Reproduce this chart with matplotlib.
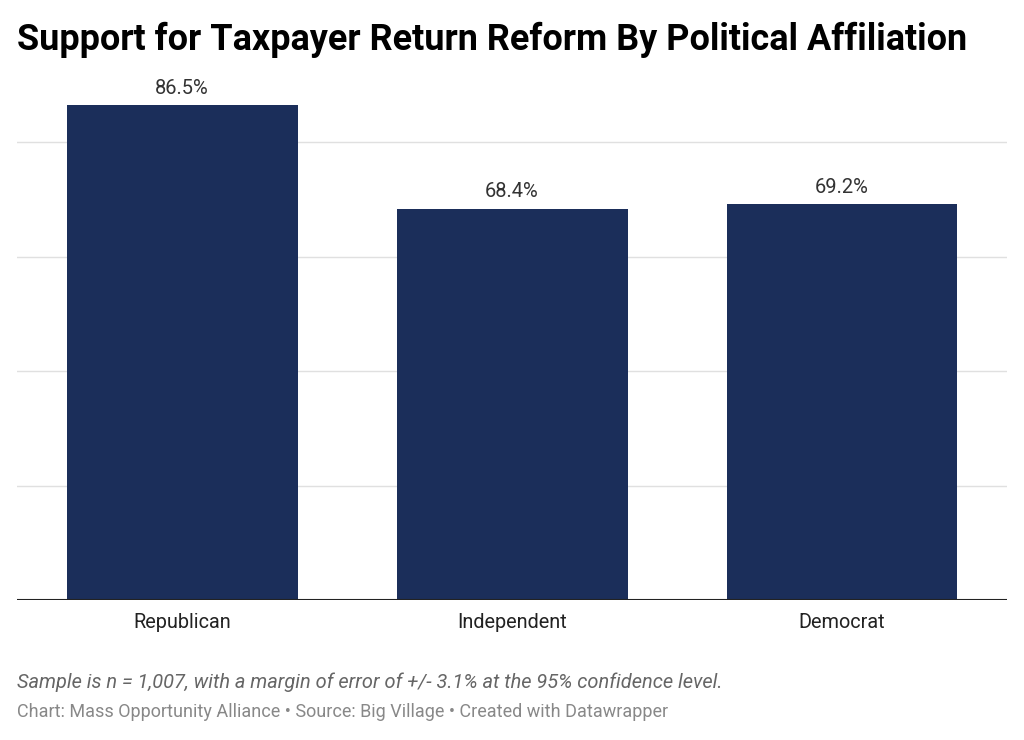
import matplotlib.pyplot as plt

plt.rcParams['font.family'] = ['Roboto', 'DejaVu Sans']

# data
parties = ['Republican', 'Independent', 'Democrat']
support = [86.5, 68.4, 69.2]
grid_ticks = [20, 40, 60, 80]

fig = plt.figure(figsize=(10.24, 7.4), dpi=100)
ax = fig.add_axes([17 / 1024, 1 - 600 / 740, 990 / 1024, 572 / 740])

x = range(len(parties))
ax.bar(x, support, width=0.7, color='#1b2e5a', zorder=2)
for xi, v in zip(x, support):
    ax.text(xi, v + 1.3, f'{v}%', ha='center', va='bottom', fontsize=14.5, color='#333333')

ax.set_xlim(-0.5, 2.5)
ax.set_ylim(0, 100)
for g in grid_ticks:
    ax.axhline(g, color='#e0e0e0', lw=1, zorder=1)
ax.axhline(0, color='#222222', lw=1.5, zorder=3)

ax.set_xticks(list(x))
ax.set_xticklabels(parties, fontsize=14.3, color='#222222')
ax.tick_params(axis='x', length=0, pad=9)
ax.set_yticks([])
for s in ax.spines.values():
    s.set_visible(False)

fig.text(17 / 1024, 1 - 40 / 740, 'Support for Taxpayer Return Reform By Political Affiliation',
         fontsize=25.9, fontweight='bold', va='center', ha='left', color='#000000')
fig.text(17 / 1024, 1 - 682 / 740,
         'Sample is n = 1,007, with a margin of error of +/- 3.1% at the 95% confidence level.',
         fontsize=14.4, style='italic', color='#666666', va='center', ha='left')
fig.text(17 / 1024, 1 - 712 / 740,
         'Chart: Mass Opportunity Alliance \u2022 Source: Big Village \u2022 Created with Datawrapper',
         fontsize=13, color='#888888', va='center', ha='left')

fig.savefig('out.png', dpi=100, facecolor='white')
